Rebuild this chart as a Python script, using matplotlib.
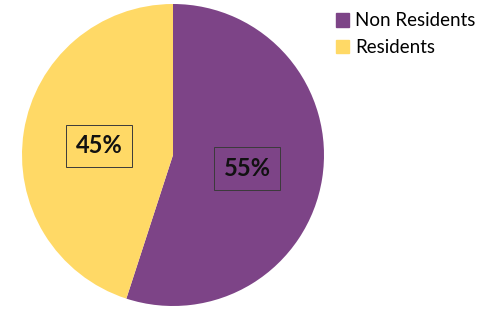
import matplotlib
matplotlib.use("Agg")
from matplotlib import pyplot as plt
from matplotlib.patches import Patch

labels = ["Non Residents", "Residents"]
shares = [55, 45]
colors = ["#7D4487", "#FFD966"]
pct_text = ["55%", "45%"]

plt.rcParams['font.family'] = ['Lato', 'DejaVu Sans']

fig = plt.figure(figsize=(5.02, 3.09), dpi=100)
ax = fig.add_axes([22/502, 3/309, 302/502, 302/309])

wedges, _ = ax.pie(shares, colors=colors, startangle=90, counterclock=False,
                   radius=1.0, wedgeprops=dict(linewidth=0))
ax.set_xlim(-1, 1)
ax.set_ylim(-1, 1)
ax.set_aspect("auto")

# percentage labels in thin boxes
label_pos = [(0.49, -0.09), (-0.49, 0.06)]
for (x, y), t in zip(label_pos, pct_text):
    ax.text(x, y, t, ha="center", va="center", fontsize=17, fontweight="bold",
            color="#111111",
            bbox=dict(boxstyle="square,pad=0.42", fc="none", ec="#3a3a3a", lw=0.7))

handles = [Patch(color=c, label=l) for c, l in zip(colors, labels)]
fig.legend(handles=handles, loc="upper left", bbox_to_anchor=(329/502, 1 - 5/309),
           frameon=False, fontsize=13.5, handlelength=0.65, handleheight=0.7,
           handletextpad=0.35, labelspacing=0.5, borderaxespad=0)

fig.savefig("out.png", dpi=100)
